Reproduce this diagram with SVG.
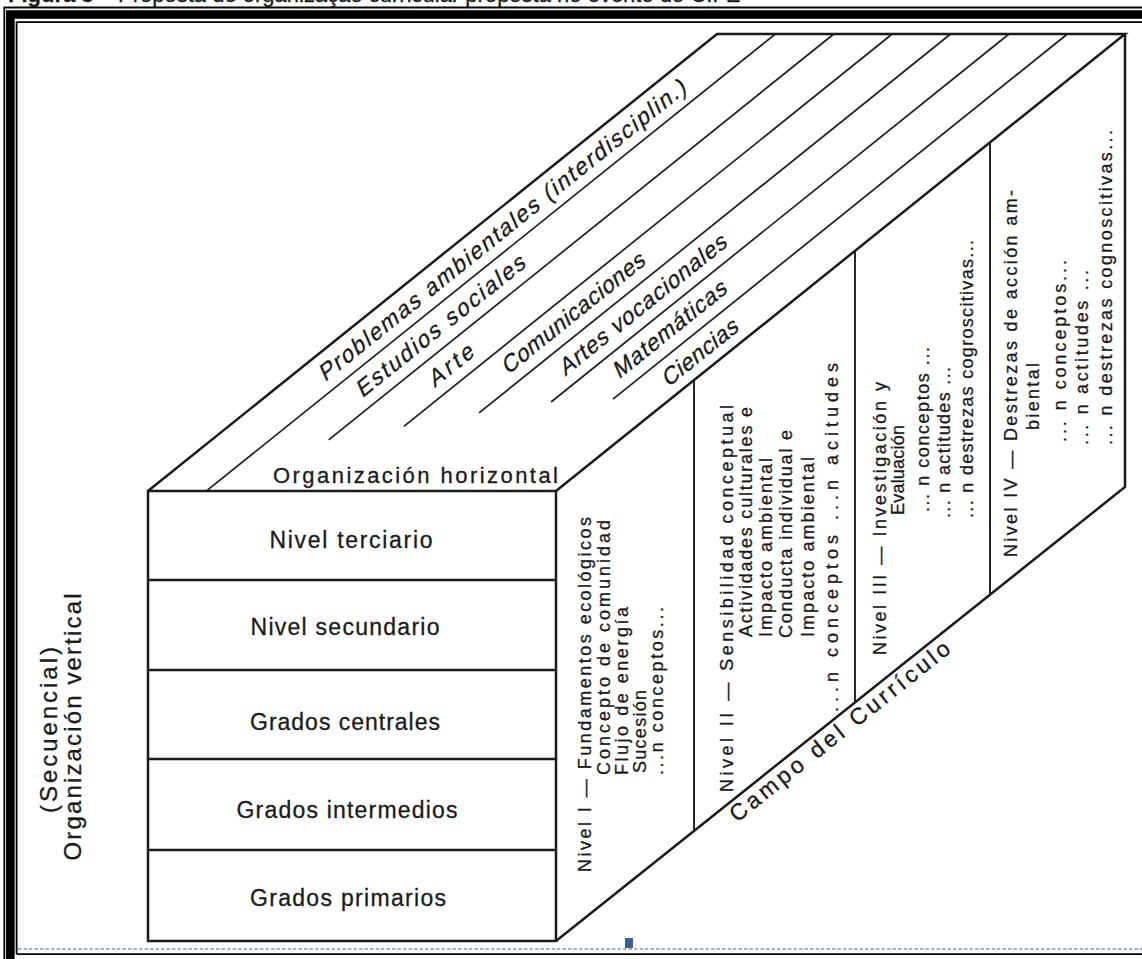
<svg xmlns="http://www.w3.org/2000/svg" width="1142" height="959" viewBox="0 0 1142 959">
<style>
.e{fill:none;stroke:#1a1a1a;stroke-width:2.5;stroke-linejoin:miter}
.r{fill:none;stroke:#1a1a1a;stroke-width:2.3}
.l{fill:none;stroke:#1e1e1e;stroke-width:1.7}
.d{fill:none;stroke:#1e1e1e;stroke-width:1.9}
.t{font-family:"Liberation Sans",Arial,sans-serif;fill:#1a1a1a;stroke:#1a1a1a;stroke-width:0.3}
.f{font-size:23px}
.s{font-size:18px}
.v{font-size:24px}
.it{font-size:23px}
</style>
<rect width="1142" height="959" fill="#fff"/>
<text class="t" x="8" y="2" font-size="22" stroke-width="0"><tspan font-weight="bold">Figura 3</tspan> – Proposta de organização curricular proposta no evento do CIFE</text>
<g id="frame">
<path d="M4.3,959V7.5H1142" fill="none" stroke="#000" stroke-width="1.8"/>
<rect x="10.35" y="14.5" width="1200" height="951" fill="none" stroke="#000" stroke-width="8.6"/>
<path d="M16.6,954V22.2H1142M16.6,954.2H1142" fill="none" stroke="#000" stroke-width="1.8"/>
<path d="M18,949H1142" fill="none" stroke="#8396b8" stroke-width="1.4" stroke-dasharray="3.5,2"/>
<rect x="625" y="938" width="8" height="10" fill="#3d5f94"/>
</g>
<g id="connectors">
<path class="l" d="M775.4,34L206.5,490.9M833.8,34L328.7,439.8M892.2,34L403.9,426.3M950.6,34L479.1,412.9M1009,34L551.1,402M1067.4,34L613,399.2"/>
<path class="d" d="M694,380.2V830.9M855,250.8V702.4M990,142.4V594.7"/>
<path class="r" d="M148,580H556M148,670H556M148,759H556M148,850H556"/>
</g>
<g id="cube">
<path class="e" d="M148,491H556V941H148Z"/>
<path class="e" d="M148,491L717,34H1125L556,491"/>
<path class="e" d="M1125,34V487L556,941"/>
</g>
<g id="front-face">
<text class="t f" x="351" y="548" text-anchor="middle" textLength="163" lengthAdjust="spacing">Nivel terciario</text>
<text class="t f" x="345" y="635" text-anchor="middle" textLength="189" lengthAdjust="spacing">Nivel secundario</text>
<text class="t f" x="345" y="730" text-anchor="middle" textLength="190" lengthAdjust="spacing">Grados centrales</text>
<text class="t f" x="347" y="818" text-anchor="middle" textLength="221" lengthAdjust="spacing">Grados intermedios</text>
<text class="t f" x="348" y="906" text-anchor="middle" textLength="196" lengthAdjust="spacing">Grados primarios</text>
</g>
<g id="vertical-label">
<text class="t v" transform="translate(57,730) rotate(-90)" text-anchor="middle" textLength="166" lengthAdjust="spacing">(Secuencial)</text>
<text class="t v" transform="translate(81,727) rotate(-90)" text-anchor="middle" textLength="267" lengthAdjust="spacing">Organización vertical</text>
</g>
<g id="top-face">
<text class="t" font-size="22" x="273" y="483" textLength="285" lengthAdjust="spacing">Organización horizontal</text>
<text class="t it" transform="translate(324.9,382.3) rotate(-38.77) skewX(-15)" textLength="465" lengthAdjust="spacing">Problemas ambientales (interdisciplin.)</text>
<text class="t it" transform="translate(362.2,398.4) rotate(-38.77) skewX(-15)" textLength="211" lengthAdjust="spacing">Estudios sociales</text>
<text class="t it" transform="translate(434.6,387.9) rotate(-38.77) skewX(-15)" textLength="52" lengthAdjust="spacing">Arte</text>
<text class="t it" transform="translate(507.7,375.2) rotate(-38.77) skewX(-15)" textLength="178" lengthAdjust="spacing">Comunicaciones</text>
<text class="t it" transform="translate(565.2,376.5) rotate(-38.77) skewX(-15)" textLength="209" lengthAdjust="spacing">Artes vocacionales</text>
<text class="t it" transform="translate(619,379.5) rotate(-38.77) skewX(-15)" textLength="140" lengthAdjust="spacing">Matemáticas</text>
<text class="t it" transform="translate(667.9,387.7) rotate(-38.77) skewX(-15)" textLength="92" lengthAdjust="spacing">Ciencias</text>
</g>
<g id="nivel-1">
<text class="t s" transform="translate(591,872) rotate(-90)" textLength="355" lengthAdjust="spacing">Nivel I — Fundamentos ecológicos</text>
<text class="t s" transform="translate(610,775) rotate(-90)" textLength="255" lengthAdjust="spacing">Concepto de comunidad</text>
<text class="t s" transform="translate(628,775) rotate(-90)" textLength="168" lengthAdjust="spacing">Flujo de energía</text>
<text class="t s" transform="translate(646,773) rotate(-90)" textLength="83" lengthAdjust="spacing">Sucesión</text>
<text class="t s" transform="translate(663,775) rotate(-90)" textLength="168" lengthAdjust="spacing">...n conceptos...</text>
</g>
<g id="nivel-2">
<text class="t s" transform="translate(733,792) rotate(-90)" textLength="387" lengthAdjust="spacing">Nivel II — Sensibilidad conceptual</text>
<text class="t s" transform="translate(752,637) rotate(-90)" textLength="230" lengthAdjust="spacing">Actividades culturales e</text>
<text class="t s" transform="translate(772,637) rotate(-90)" textLength="179" lengthAdjust="spacing">Impacto ambiental</text>
<text class="t s" transform="translate(792,638) rotate(-90)" textLength="208" lengthAdjust="spacing">Conducta individual e</text>
<text class="t s" transform="translate(814,637) rotate(-90)" textLength="180" lengthAdjust="spacing">Impacto ambiental</text>
<text class="t s" transform="translate(838,712) rotate(-90)" textLength="349" lengthAdjust="spacing">...n conceptos ...n acitudes</text>
</g>
<g id="nivel-3">
<text class="t s" transform="translate(886,655) rotate(-90)" textLength="273" lengthAdjust="spacing">Nivel III — Investigación y</text>
<text class="t s" transform="translate(904,515) rotate(-90)" textLength="90" lengthAdjust="spacing">Evaluación</text>
<text class="t s" transform="translate(929,512) rotate(-90)" textLength="165" lengthAdjust="spacing">... n conceptos ...</text>
<text class="t s" transform="translate(950,518) rotate(-90)" textLength="151" lengthAdjust="spacing">... n actitudes ...</text>
<text class="t s" transform="translate(973,518) rotate(-90)" textLength="278" lengthAdjust="spacing">... n destrezas cogroscitivas...</text>
</g>
<g id="nivel-4">
<text class="t s" transform="translate(1017,557) rotate(-90)" textLength="367" lengthAdjust="spacing">Nivel IV — Destrezas de acción am-</text>
<text class="t s" transform="translate(1039,430) rotate(-90)" textLength="67" lengthAdjust="spacing">biental</text>
<text class="t s" transform="translate(1066,442) rotate(-90)" textLength="182" lengthAdjust="spacing">... n conceptos...</text>
<text class="t s" transform="translate(1088,445) rotate(-90)" textLength="175" lengthAdjust="spacing">... n actitudes ...</text>
<text class="t s" transform="translate(1112,445) rotate(-90)" textLength="315" lengthAdjust="spacing">... n destrezas cognoscitivas...</text>
</g>
<g id="campo">
<text class="t" font-size="23" transform="translate(737,823) rotate(-38.58)" textLength="275" lengthAdjust="spacing">Campo del Currículo</text>
</g>
</svg>
